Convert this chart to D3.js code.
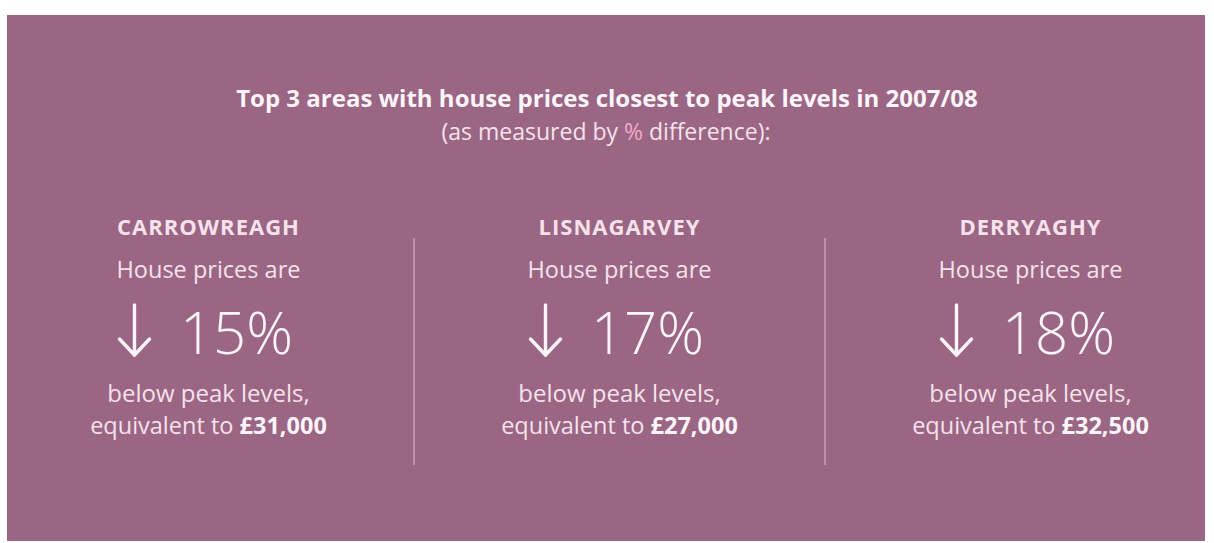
<!DOCTYPE html>
<html><head><meta charset="utf-8">
<script src="https://cdn.jsdelivr.net/npm/d3@7"></script>
<style>
html,body{margin:0;padding:0;background:#ffffff;}
svg{display:block;}
text{font-family:"Open Sans","Noto Sans",sans-serif;}
</style></head>
<body>
<svg id="chart" width="1214" height="543"></svg>
<script>
const titleLine1 = "Top 3 areas with house prices closest to peak levels in 2007/08";
const titleLine2a = "(as measured by ";
const titleLine2b = "%";
const titleLine2c = " difference):";
const areas = ["CARROWREAGH", "LISNAGARVEY", "DERRYAGHY"];
const pctBelow = [15, 17, 18];
const equivalent = [31000, 27000, 32500];

const W = 1214, H = 543;
const svg = d3.select("#chart");
const bg = "#9a6684", fg = "#f7e2ec", white = "#fdf5f9", pink = "#f3a9c9";

svg.append("rect").attr("x", 7).attr("y", 15).attr("width", 1198).attr("height", 526).attr("fill", bg);

svg.append("text").attr("x", 607).attr("y", 107).attr("text-anchor", "middle")
  .attr("font-size", 24).attr("font-weight", 700).attr("fill", white).text(titleLine1);
const t2 = svg.append("text").attr("x", 606).attr("y", 140).attr("text-anchor", "middle")
  .attr("font-size", 23).attr("fill", fg);
t2.append("tspan").text(titleLine2a);
t2.append("tspan").attr("fill", pink).text(titleLine2b);
t2.append("tspan").text(titleLine2c);

const x = d3.scaleBand().domain(areas).range([3, 1236]);
const fmt = d3.format(",");

const cols = svg.selectAll("g.col").data(areas.map((a, i) => ({area: a, pct: pctBelow[i], amt: equivalent[i]})))
  .join("g").attr("class", "col")
  .attr("transform", d => `translate(${x(d.area) + x.bandwidth() / 2},0)`);

cols.append("text").attr("y", 235).attr("text-anchor", "middle").attr("font-size", 22)
  .attr("font-weight", 700).attr("letter-spacing", 1).attr("fill", fg).text(d => d.area);
cols.append("text").attr("y", 278).attr("text-anchor", "middle").attr("font-size", 23.5)
  .attr("fill", fg).text("House prices are");

// big number
cols.append("text").attr("x", 28).attr("y", 354).attr("text-anchor", "middle").attr("font-size", 58)
  .attr("font-weight", 300).attr("fill", white).text(d => d.pct + "%");
// arrow
const arrow = cols.append("g").attr("transform", "translate(-74,0)")
  .attr("stroke", white).attr("stroke-width", 3.4).attr("fill", "none").attr("stroke-linecap", "round");
arrow.append("line").attr("x1", 0).attr("x2", 0).attr("y1", 305).attr("y2", 355);
arrow.append("path").attr("d", "M-15,339 L0,355 L15,339").attr("stroke-linejoin", "round");

cols.append("text").attr("y", 402).attr("text-anchor", "middle").attr("font-size", 24)
  .attr("fill", fg).text("below peak levels,");
const eq = cols.append("text").attr("y", 434).attr("text-anchor", "middle").attr("font-size", 23.5)
  .attr("fill", fg);
eq.append("tspan").text("equivalent to ");
eq.append("tspan").attr("font-weight", 700).attr("fill", white).text(d => "£" + fmt(d.amt));

// dividers
svg.selectAll("line.div").data(areas.slice(1)).join("line").attr("class", "div")
  .attr("x1", d => x(d)).attr("x2", d => x(d))
  .attr("y1", 238).attr("y2", 465).attr("stroke", "#d9a9c0").attr("stroke-width", 1.2);
</script>
</body></html>
